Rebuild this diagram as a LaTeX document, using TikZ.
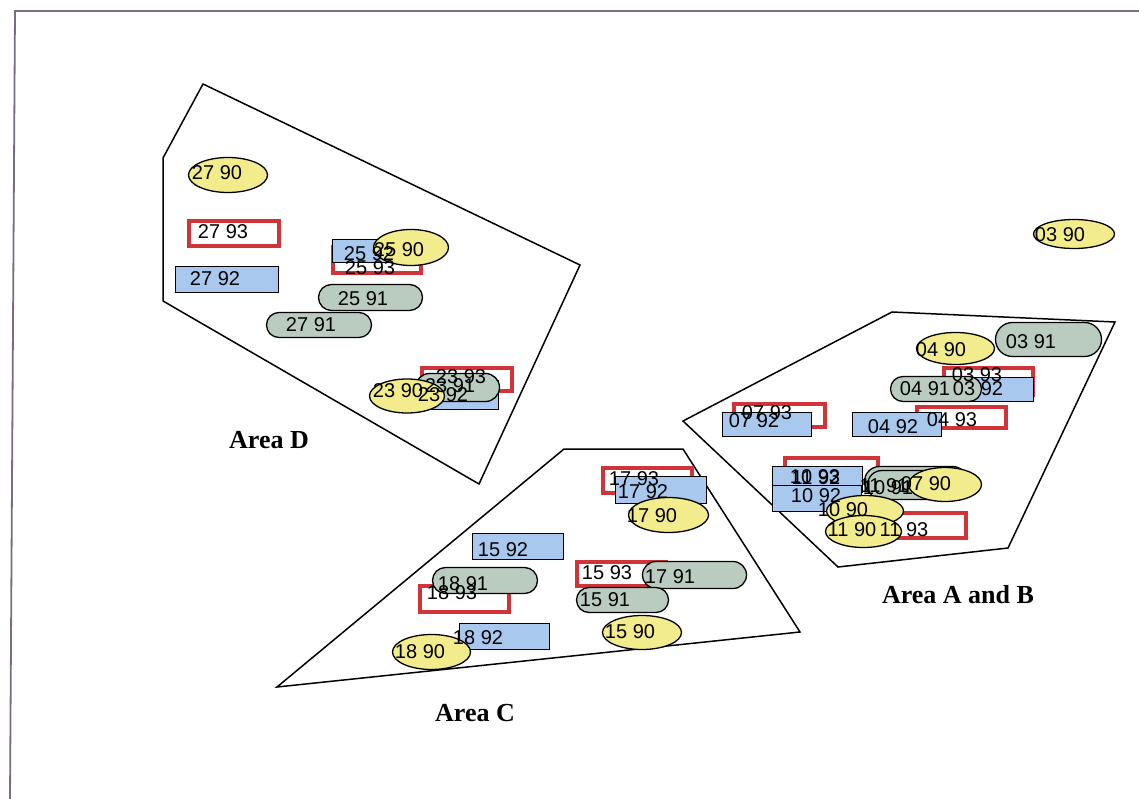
\documentclass[tikz,border=0pt]{standalone}
\usepackage{fontspec}
\setmainfont{Liberation Sans}
\newfontfamily\labfont{Liberation Serif}
\usetikzlibrary{shapes.geometric,shapes.misc}
\definecolor{yel}{RGB}{242,236,140}
\definecolor{blu}{RGB}{168,200,238}
\definecolor{grn}{RGB}{186,204,192}
\definecolor{redb}{RGB}{208,52,56}
\definecolor{framec}{RGB}{120,110,125}
\tikzset{
  ell/.style={ellipse, draw=black, line width=1.3pt, fill=yel, inner sep=0pt},
  rbox/.style={rectangle, draw=redb, line width=3.5pt, fill=white, inner sep=0pt},
  bbox/.style={rectangle, draw=black, line width=1.3pt, fill=blu, inner sep=0pt},
  stad/.style={rounded rectangle, draw=black, line width=1.3pt, fill=grn, inner sep=0pt},
  txt/.style={font=\fontsize{20}{24}\selectfont, inner sep=0pt, text=black},
  arealab/.style={font=\labfont\bfseries\fontsize{26}{30}\selectfont, inner sep=0pt},
  poly/.style={draw=black, line width=1.5pt, line join=miter},
  framel/.style={draw=framec, line width=1.8pt}
}
\begin{document}
\begin{tikzpicture}[x=1pt,y=-1pt]
\useasboundingbox (0,0) rectangle (1139,799);
% frame
\coordinate (fr0) at (15,11);
\coordinate (fr1) at (1139,11);
\coordinate (fr2) at (10,799);
\draw[framel] (fr2) -- (fr0) -- (fr1);

% area polygons
\draw[poly] (203,84) -- (580,265) -- (479,484) -- (163,301) -- (163,158) -- cycle;
\draw[poly] (892,312) -- (1115,322) -- (1008,548) -- (838,567) -- (683,421) -- cycle;
\draw[poly] (564,449) -- (683,449) -- (800,632) -- (277,687) -- cycle;

% ---------------- Area D shapes
\node[ell, minimum width=79pt, minimum height=35pt] (e2790) at (228,175) {};
\node[rbox, minimum width=90pt, minimum height=25pt] (r2793) at (234,233.5) {};
\node[bbox, minimum width=103pt, minimum height=26pt] (b2792) at (227,279.5) {};
\node[rbox, minimum width=88pt, minimum height=26pt] (r2593) at (377,260) {};
\node[bbox, minimum width=89pt, minimum height=23pt] (b2592) at (377,251) {};
\node[ell, minimum width=75pt, minimum height=36pt] (e2590) at (411,247.5) {};
\node[stad, minimum width=104pt, minimum height=26pt] (s2591) at (370.5,297.5) {};
\node[stad, minimum width=105pt, minimum height=25pt] (s2791) at (319,325) {};
\node[rbox, minimum width=90pt, minimum height=23pt] (r2393) at (467,379.5) {};
\node[bbox, minimum width=83pt, minimum height=29pt] (b2392) at (457,395) {};
\node[stad, minimum width=84pt, minimum height=28pt] (s2391) at (457.5,387.5) {};
\node[ell, minimum width=75pt, minimum height=34pt] (e2390) at (407,396) {};

% ---------------- Area C shapes
\node[rbox, minimum width=89pt, minimum height=25pt] (r1793) at (647.5,480.5) {};
\node[bbox, minimum width=91pt, minimum height=27pt] (b1792) at (661,490) {};
\node[ell, minimum width=80pt, minimum height=35pt] (e1790) at (668.5,515) {};
\node[bbox, minimum width=91pt, minimum height=26pt] (b1592) at (518,546.5) {};
\node[rbox, minimum width=89pt, minimum height=24pt] (r1593) at (621.5,574) {};
\node[stad, minimum width=104pt, minimum height=27pt] (s1791) at (694.5,575) {};
\node[rbox, minimum width=89pt, minimum height=26pt] (r1893) at (464.5,599) {};
\node[stad, minimum width=105pt, minimum height=26pt] (s1891) at (485,580.5) {};
\node[stad, minimum width=92pt, minimum height=25pt] (s1591) at (622.5,600) {};
\node[ell, minimum width=79pt, minimum height=34pt] (e1590) at (642,632.5) {};
\node[bbox, minimum width=90pt, minimum height=26pt] (b1892) at (504.5,636.5) {};
\node[ell, minimum width=78pt, minimum height=35pt] (e1890) at (431.5,652) {};

% ---------------- Area A and B shapes
\node[ell, minimum width=81pt, minimum height=29pt] (e0390) at (1074,234) {};
\node[rbox, minimum width=89pt, minimum height=27pt] (r0393) at (988.5,381.5) {};
\node[bbox, minimum width=88pt, minimum height=24pt] (b0392) at (989.5,389.5) {};
\node[stad, minimum width=91pt, minimum height=25pt] (s0491) at (936,389) {};
\node[stad, minimum width=106pt, minimum height=34pt] (s0391) at (1048.5,339.5) {};
\node[ell, minimum width=78pt, minimum height=32pt] (e0490) at (955.5,348.5) {};
\node[rbox, minimum width=89pt, minimum height=21pt] (r0493) at (961.5,417.5) {};
\node[bbox, minimum width=89pt, minimum height=24pt] (b0492) at (897,424.5) {};
\node[rbox, minimum width=91pt, minimum height=23pt] (r0793) at (779.5,415.5) {};
\node[bbox, minimum width=89pt, minimum height=24pt] (b0792) at (767,424.5) {};
\node[rbox, minimum width=93pt, minimum height=25pt] (r1093) at (831.5,470.5) {};
\node[bbox, minimum width=90pt, minimum height=26pt] (b1192) at (817.5,479.5) {};
\node[bbox, minimum width=89pt, minimum height=26pt] (b1092) at (817,498.5) {};
\node[stad, minimum width=103pt, minimum height=30pt] (s1191) at (916,481.5) {};
\node[stad, minimum width=104pt, minimum height=29pt] (s1091) at (919.5,485) {};
\node[ell, minimum width=73pt, minimum height=34pt] (e0790) at (945,484.5) {};
\node[rbox, minimum width=92pt, minimum height=25pt] (r1193) at (920,525.5) {};
\node[ell, minimum width=77pt, minimum height=31pt] (e1090) at (865,511) {};
\node[ell, minimum width=76pt, minimum height=32pt] (e1190) at (863.5,531.5) {};

% ---------------- texts
\node[txt] (t2790) at (217,173) {27 90};
\node[txt] (t2793) at (223,232) {27 93};
\node[txt] (t2792) at (215,279) {27 92};
\node[txt] (t2593) at (370,268) {25 93};
\node[txt] (t2592) at (369,254) {25 92};
\node[txt] (t2590) at (399,250) {25 90};
\node[txt] (t2591) at (363,299) {25 91};
\node[txt] (t2791) at (311,325) {27 91};
\node[txt] (t2393) at (461,377) {23 93};
\node[txt] (t2391) at (450,386) {23 91};
\node[txt] (t2392) at (443,395) {23 92};
\node[txt] (t2390) at (398,391) {23 90};

\node[txt] (t1793) at (634,479) {17 93};
\node[txt] (t1792) at (643,492) {17 92};
\node[txt] (t1790) at (652,516) {17 90};
\node[txt] (t1592) at (503,550) {15 92};
\node[txt] (t1593) at (607,573) {15 93};
\node[txt] (t1791) at (670,577) {17 91};
\node[txt] (t1891) at (463,584) {18 91};
\node[txt] (t1893) at (452,593) {18 93};
\node[txt] (t1591) at (605,600) {15 91};
\node[txt] (t1590) at (630,632) {15 90};
\node[txt] (t1892) at (478,637.5) {18 92};
\node[txt] (t1890) at (420,652) {18 90};

\node[txt] (t0390) at (1060,235) {03 90};
\node[txt] (t0391) at (1031,342) {03 91};
\node[txt] (t0490) at (941,350) {04 90};
\node[txt] (t0393) at (977,375) {03 93};
\node[txt] (t0392) at (978,389) {03 92};
\node[txt] (t0491) at (925,389) {04 91};
\node[txt] (t0493) at (952,420) {04 93};
\node[txt] (t0492) at (893,427) {04 92};
\node[txt] (t0793) at (767,413) {07 93};
\node[txt] (t0792) at (754,421) {07 92};
\node[txt] (t1093) at (815,477) {10 93};
\node[txt] (t1192) at (816,478) {11 92};
\node[txt] (t1092) at (816,496) {10 92};
\node[txt] (t1191) at (884,486) {11 91};
\node[txt] (t1091) at (888,488) {10 91};
\node[txt] (t0790) at (926,484) {07 90};
\node[txt] (t1090) at (843,510) {10 90};
\node[txt] (t1190) at (852,530) {11 90};
\node[txt] (t1193) at (904,530) {11 93};

% area labels
\node[arealab] (labD) at (269,440) {Area D};
\node[arealab] (labAB) at (958,595) {Area A and B};
\node[arealab] (labC) at (475,713) {Area C};
\end{tikzpicture}
\end{document}
